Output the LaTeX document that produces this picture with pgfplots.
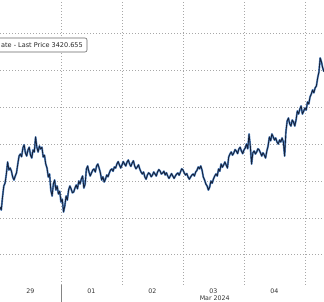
\documentclass[border=0pt]{standalone}
\usepackage{pgfplots}
\usepackage{pgfplotstable}
\pgfplotsset{compat=1.18}
\usepackage{fontspec}
\setmainfont{DejaVu Sans}
\definecolor{gridc}{HTML}{A8A8A8}
\definecolor{axc}{HTML}{858585}
\definecolor{lineblue}{HTML}{5A8AC6}
\definecolor{linedark}{HTML}{14213A}
\pgfplotstableread{
h p
-24 3082.5
-23.5 3075
-23 3107.5
-22.5 3135
-22 3142.5
-21.5 3165
-21 3195
-20.5 3175
-20 3180
-19.5 3172
-19 3157.5
-18.5 3150
-18 3160
-17.5 3168
-17 3190
-16.5 3210
-16 3215
-15.5 3208
-15 3230
-14.5 3238
-14 3217.5
-13.5 3210
-13 3225
-12.5 3232
-12 3212.5
-11.5 3205
-11 3225
-10.5 3220
-10 3257.5
-9.5 3232
-9 3220
-8.5 3235
-8 3227.5
-7.5 3232
-7 3207.5
-6.5 3212
-6 3190
-5.5 3180
-5 3157.5
-4.5 3165
-4 3125
-3.5 3110
-3 3140
-2.5 3150
-2 3125
-1.5 3135
-1 3115
-0.5 3122
0 3095
0.5 3102
1 3070
1.5 3085
2 3110
2.5 3100
3 3125
3.5 3135
4 3127.5
4.5 3118
5 3120
5.5 3130
6 3137.5
6.5 3128
7 3147.5
7.5 3140
8 3152.5
8.5 3160
9 3130
9.5 3140
10 3177.5
10.5 3185
11 3170
11.5 3160
12 3167.5
12.5 3175
13 3177.5
13.5 3170
14 3185
14.5 3190
15 3180
15.5 3168
16 3150
16.5 3158
17 3145
17.5 3152
18 3162.5
18.5 3158
19 3167.5
19.5 3175
20 3177.5
20.5 3172
21 3182.5
21.5 3180
22 3190
22.5 3196
23 3187.5
23.5 3180
24 3187.5
24.5 3196
25 3190
25.5 3185
26 3195
26.5 3200
27 3190
27.5 3184
28 3192.5
28.5 3198
29 3185
29.5 3178
30 3182.5
30.5 3188
31 3177.5
31.5 3170
32 3165
32.5 3170
33 3157.5
33.5 3152
34 3162.5
34.5 3168
35 3165
35.5 3158
36 3162.5
36.5 3170
37 3165
37.5 3160
38 3170
38.5 3176
39 3172.5
39.5 3165
40 3167.5
40.5 3172
41 3162.5
41.5 3168
42 3160
42.5 3154
43 3160
43.5 3166
44 3160
44.5 3154
45 3160
45.5 3165
46 3167.5
46.5 3162
47 3170
47.5 3178
48 3175
48.5 3168
49 3162.5
49.5 3166
50 3157.5
50.5 3152
51 3157.5
51.5 3162
52 3165
52.5 3160
53 3170
53.5 3174
54 3182.5
54.5 3178
55 3185
55.5 3175
56 3157.5
56.5 3150
57 3140
57.5 3135
58 3125
58.5 3132
59 3147.5
59.5 3142
60 3152.5
60.5 3160
61 3165
61.5 3160
62 3177.5
62.5 3172
63 3190
63.5 3182
64 3187.5
64.5 3195
65 3187.5
65.5 3180
66 3207.5
66.5 3215
67 3220
67.5 3212
68 3217.5
68.5 3226
69 3222.5
69.5 3216
70 3227.5
70.5 3232
71 3222.5
71.5 3216
72 3225
72.5 3230
73 3240
73.5 3228
74 3265
74.5 3235
75 3190
75.5 3218
76 3222.5
76.5 3215
77 3220
77.5 3228
78 3225
78.5 3218
79 3210
79.5 3218
80 3212.5
80.5 3205
81 3222.5
81.5 3235
82 3257.5
82.5 3248
83 3265
83.5 3258
84 3250
84.5 3255
85 3245
85.5 3240
86 3250
86.5 3245
87 3255
87.5 3245
88 3210
88.5 3270
89 3297.5
89.5 3305
90 3290
90.5 3285
91 3300
91.5 3295
92 3285
92.5 3300
93 3322.5
93.5 3315
94 3327.5
94.5 3335
95 3315
95.5 3322
96 3330
96.5 3325
97 3345
97.5 3340
98 3357.5
98.5 3365
99 3375
99.5 3368
100 3380
100.5 3385
101 3405
101.5 3420
102 3455
102.5 3445
103 3430
103.5 3420.655
}\pricedata
\begin{document}
\begin{tikzpicture}
\begin{axis}[
  at={(0,0)}, anchor=south west,
  scale only axis, width=324pt, height=285pt,
  xmin=-24, xmax=103.5, ymin=2887.5, ymax=3600,
  x axis line style={color=axc, line width=0.9pt},
  y axis line style={draw=none},
  xtick={-12,12,36,60,84},
  xticklabels={\mbox{29},\mbox{01},\mbox{02},\mbox{03},\mbox{04}},
  xticklabel pos=lower,
  major tick length=0pt, minor tick length=0pt,
  minor xtick={0,24,48,72,96},
  xminorgrids=true, xmajorgrids=false,
  ytick={2965,3055,3147.5,3240,3332.5,3425,3517.5},
  ymajorgrids=true, yticklabels={},
  grid style={color=gridc, line width=0.6pt, dash pattern=on 0.8pt off 2.2pt},
  minor grid style={color=gridc, line width=0.6pt, dash pattern=on 0.8pt off 2.2pt},
  xticklabel style={font=\fontsize{6.3}{7}\selectfont, text=black!80},
  clip=true,
]
\addplot[lineblue, line width=1.9pt, line join=round] table[x=h, y=p] {\pricedata};
\addplot[linedark, line width=0.85pt, line join=round] table[x=h, y=p] {\pricedata};
\coordinate (sep) at (axis cs:0,2887.5);
\coordinate (mar) at (axis cs:60.5,2887.5);
\end{axis}
\draw[axc, line width=0.9pt] (sep) -- ++(0,-17pt);
\node[font=\fontsize{6.3}{7}\selectfont, text=black!80, inner sep=0pt] at ([yshift=-13pt]mar) {Mar 2024};
\draw[rounded corners=2pt, draw=black!60, fill=white, line width=0.6pt] (-10pt,233pt) rectangle (87pt,247pt);
\node[anchor=west, font=\fontsize{6.5}{7}\selectfont, inner sep=0pt, text=black!85] at (1pt,240pt) {ate - Last Price 3420.655};
\pgfresetboundingbox
\useasboundingbox (0,-17pt) rectangle (324pt,285pt);
\end{tikzpicture}
\end{document}
